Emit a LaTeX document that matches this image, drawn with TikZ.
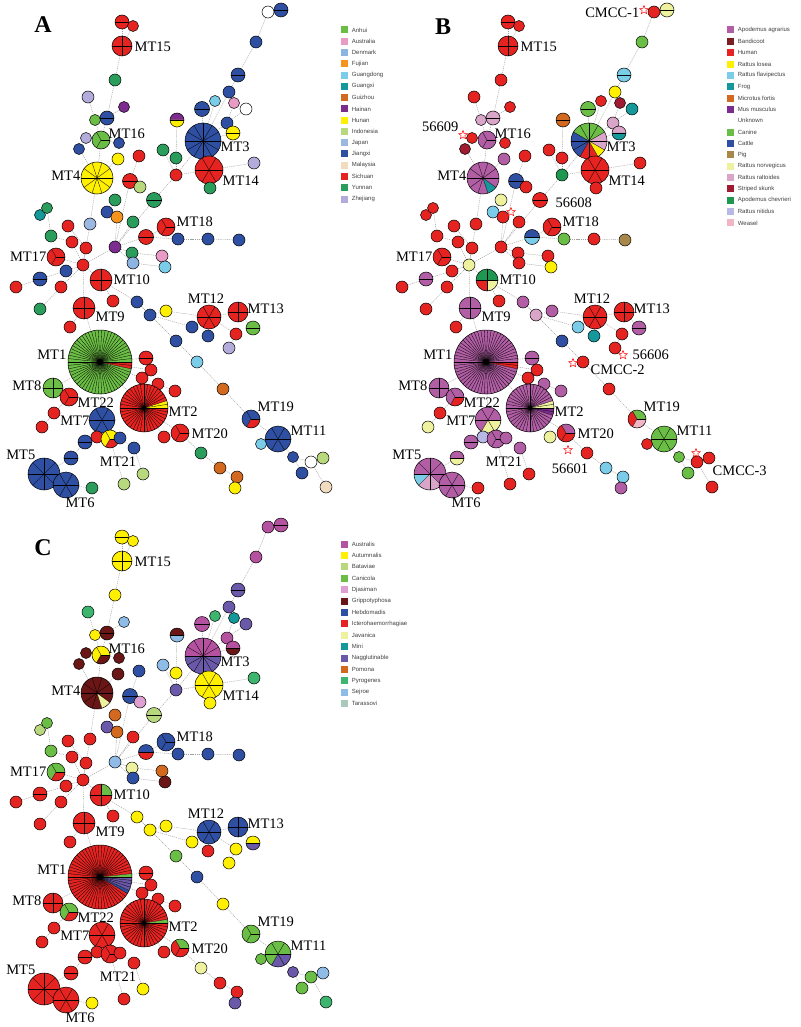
\documentclass[tikz,border=0pt]{standalone}
\usepackage{fontspec}
\setmainfont{Liberation Serif}
\newfontfamily\legfont{Liberation Sans}
\usetikzlibrary{positioning,shapes.geometric}

% colours of panel A (origin)
\definecolor{anh}{HTML}{6BBE45}\definecolor{aus}{HTML}{E89CC5}\definecolor{den}{HTML}{8DB3E2}
\definecolor{fuj}{HTML}{F7941D}\definecolor{gdo}{HTML}{7ACCE8}\definecolor{gxi}{HTML}{15989A}
\definecolor{gzh}{HTML}{D2691E}\definecolor{hai}{HTML}{7B2C8E}\definecolor{hun}{HTML}{FFEF00}
\definecolor{ind}{HTML}{B8D87E}\definecolor{jap}{HTML}{9BB8E0}\definecolor{jxi}{HTML}{2E4FA2}
\definecolor{mal}{HTML}{F2DCC0}\definecolor{sch}{HTML}{E52421}\definecolor{yun}{HTML}{2A9D5C}
\definecolor{zhe}{HTML}{B3ACDB}
% colours of panel B (host)
\definecolor{agr}{HTML}{B15EA5}\definecolor{ban}{HTML}{7A1E22}\definecolor{hum}{HTML}{E52421}
\definecolor{los}{HTML}{FFEF00}\definecolor{fla}{HTML}{7ACCE8}\definecolor{fro}{HTML}{15989A}
\definecolor{mic}{HTML}{D2691E}\definecolor{mus}{HTML}{7B2C8E}\definecolor{unk}{HTML}{FFFFFF}
\definecolor{can}{HTML}{6BBE45}\definecolor{cat}{HTML}{2E4FA2}\definecolor{pig}{HTML}{A8884A}
\definecolor{nor}{HTML}{EEF19E}\definecolor{ral}{HTML}{D9A5C9}\definecolor{ssk}{HTML}{9E1B32}
\definecolor{che}{HTML}{1E9850}\definecolor{nit}{HTML}{B8B8E6}\definecolor{wea}{HTML}{F2B5C4}
% colours of panel C (serogroup)
\definecolor{sau}{HTML}{B5529F}\definecolor{aut}{HTML}{FFEF00}\definecolor{bat}{HTML}{B8D87E}
\definecolor{cani}{HTML}{6BBE45}\definecolor{dja}{HTML}{DDA0D0}\definecolor{gri}{HTML}{6B1616}
\definecolor{heb}{HTML}{2E4FA2}\definecolor{ict}{HTML}{E52421}\definecolor{jav}{HTML}{EEF19E}
\definecolor{mini}{HTML}{15989A}\definecolor{nag}{HTML}{6A58A8}\definecolor{pom}{HTML}{D2691E}
\definecolor{pyr}{HTML}{3DB56E}\definecolor{sej}{HTML}{8EBCE6}\definecolor{tar}{HTML}{A9C9BA}

\tikzset{
  mstnode/.style={circle, inner sep=0pt, outer sep=0pt},
  mstedge/.style={draw=gray!75, line width=0.4pt, dash pattern=on 1.2pt off 0.9pt},
  pieline/.style={black, line width=0.3pt},
  pierim/.style={black, line width=0.5pt},
  mtlabel/.style={font=\fontsize{14.5}{15}\selectfont, inner sep=0.5pt},
  legbox/.style={minimum size=7pt, inner sep=0pt},
  legtext/.style={font=\legfont\fontsize{6}{7}\selectfont, text=black!75, inner sep=0pt},
  panel/.style={font=\bfseries\fontsize{24}{24}\selectfont, inner sep=0pt},
  refstar/.style={star, star points=5, star point ratio=2.3, draw=red, fill=white,
    line width=0.5pt, minimum size=9pt, inner sep=0pt},
}

% pie of one profile: panel, id, sectors, colour/count list
\newcommand{\mstpie}[4]{%
  \edef\pier{\csname mstr#2\endcsname}%
  \edef\pielist{#4}%
  \gdef\piestart{0}%
  \foreach \piecol/\piecnt in \pielist {%
    \pgfmathsetmacro\pieend{\piestart+\piecnt/#3*360}%
    \fill[fill=\piecol] (#1#2.center) -- ++(\piestart:\pier pt)
      arc[start angle=\piestart, end angle=\pieend, radius=\pier pt] -- cycle;
    \global\let\piestart\pieend
  }%
  \ifnum#3>1\relax
    \foreach \k in {1,...,#3} {\draw[pieline] (#1#2.center) -- ++({\k/#3*360}:\pier pt);}%
  \fi
  \draw[pierim] (#1#2.center) circle[radius=\pier pt];
}

\begin{document}
\begin{tikzpicture}[x=1pt, y=-1pt]
% canvas
\fill[white] (0,0) rectangle (800,1027);
\useasboundingbox (0,0) rectangle (800,1027);

% profiles, same layout in the three panels
\foreach \p/\dx/\dy in {a/0/0, b/386/0, c/0/515} {
  \foreach \id/\x/\y/\r in {t1/122/22/7, t2/133/26/5.5, MT15/122/46/10, t3/115/80/6,
      t4/88/97/6, t5/95/120/5.5, t6/107/118/7, t7/124/107/5.5, t8/86/138/5.5,
      MT16/101/140/9, t9/119/143/5.5, t10/79/149/5.5, t11/118/159/6, MT4/97/178/16,
      t12/139/156/6, t13/130/181/7.5, t14/140/187/6, t15/115/200/6, t16/107/212/6,
      t17/117/217/6, t18/133/222/6, t19/154/200/7.5, t20/90/224/6, t21/68/226/6,
      t22/51/236/6, t23/40/215/5.5, t24/47/208/5.5, MT18/166/227/9, t25/146/237/7.5,
      t26/178/239/6, t27/208/239/6, t28/239/240/6,
      u1/268/12/6, u2/281/10/7, u3/256/42/6, u4/238/75/7, u5/229/92/6, u6/215/101/5.5,
      u7/234/103/5.5, u8/246/109/6, u9/202/109/7.5, u10/227/123/6, u11/233/133/7,
      MT3/203/141/18, u12/177/120/7, u13/163/150/6, u14/176/158/6, u15/176/175/6,
      MT14/209/170/14, u16/210/188/6, u17/254/163/6,
      m1/72/242/6, m2/86/248/6, h1/115/247/6, m3/132/253/6, m4/162/256/6, m5/133/263/6,
      m6/165/267/6, MT17/56/257/9, m7/83/265/6, m8/66/271/6, m9/40/279/7, m10/16/287/6,
      m11/61/287/6, m12/40/309/6, MT10/101/280/11, m13/113/301/6, MT9/84/308/11,
      m14/70/327/6, m15/137/302/6, m16/150/315/6, m17/166/311/6, MT12/209/317/12,
      MT13/238/312/10, m18/253/328/7, m19/192/327/6, m20/208/336/6, m21/236/334/6,
      m22/229/348/6, m23/176/341/6, m24/197/362/6, m25/223/389/6, MT1/100/362/32,
      m26/146/358/7, m27/151/370/6, m28/142/378/6, m29/158/384/6, m30/175/391/6,
      MT8/53/388/10, MT22/69/397/9, MT2/144/408/24, m31/54/413/6, m32/42/427/6,
      MT7/102/420/13, MT20/180/433/9, m33/164/437/6, m34/85/442/7, m35/97/437/6,
      MT21/110/439/9, m36/120/438/6, m37/134/448/6, m38/201/453/6, m39/220/468/6,
      m40/237/477/6, m41/235/488/6, MT5/44/474/16, MT6/66/485/13, m42/71/458/7,
      m43/92/488/6, m44/124/484/6, m45/143/474/6,
      MT19/251/419/9, MT11/278/439/13, r1/261/444/5.5, r2/293/457/5.5, r3/311/462/6,
      r4/323/458/6, r5/302/473/6, r6/326/487/6} {
    \node[mstnode, minimum size={2*\r pt}] (\p\id) at (\x+\dx, \y+\dy) {};
    \expandafter\xdef\csname mstr\id\endcsname{\r}
  }
}

% links of the spanning tree
\foreach \p in {a,b,c}
  \foreach \u/\v in {t1/MT15, t2/MT15, MT15/t3, t3/t6, t4/t5, t5/MT16, t6/MT16, t7/t6,
      t8/MT16, t9/MT16, MT16/MT4, t10/MT4, t11/MT4, t12/t13, t13/t14, t13/h1, t15/t16,
      t16/t17, t17/h1, t18/h1, t19/h1, t19/u15, u15/u14, u13/u15, u12/u14, MT3/u15,
      u15/MT14, MT14/u16, MT14/u17, MT3/u9, MT3/u10, MT3/u11, MT3/u6, u10/u7, u10/u8,
      u5/MT3, u4/u5, u3/u4, u1/u3, u1/u2, MT4/t20, t20/m7, h1/m7, t25/h1, t25/MT18,
      t25/t26, t26/t27, t27/t28, h1/m3, m3/m4, h1/m5, m5/m6, t23/t24, t24/t22, t22/m1,
      m1/m7, t21/m2, m2/m7, MT17/m7, m8/m7, m9/m8, m10/m9, m11/m7, m12/m11, MT10/m7,
      MT9/m7, m13/MT10, MT10/m15, m15/m16, m16/m17, m17/MT12, m16/m19, m19/MT12,
      m20/MT12, m21/MT12, m22/m21, MT13/MT12, m18/MT13, m15/m23, m23/m24, m24/m25,
      m25/MT19, MT19/MT11, MT11/r1, MT11/r2, r2/r5, r2/r3, r3/r4, r3/r6, MT9/m14,
      MT9/MT1, MT1/m26, MT1/m27, MT1/m28, MT1/MT2, MT2/m29, m29/m30, MT1/MT8, MT8/MT22,
      MT22/m31, m31/m32, MT1/MT7, MT7/m34, MT7/m35, MT7/MT21, MT7/m36, m36/m37,
      m34/m42, m42/MT5, MT5/MT6, MT6/m43, MT21/m44, m37/m45, MT2/MT20, MT2/m33,
      MT20/m38, m38/m39, m39/m40, m40/m41}
    \draw[mstedge] (\p\u) -- (\p\v);

% A: geographic origin
\foreach \id/\n/\s in {t1/2/{sch/2}, t2/1/{sch/1}, MT15/4/{sch/4}, t3/1/{yun/1},
    t4/1/{zhe/1}, t5/1/{anh/1}, t6/2/{jxi/2}, t7/1/{hai/1}, t8/1/{zhe/1}, MT16/3/{anh/3},
    t9/1/{jxi/1}, t10/1/{jxi/1}, t11/1/{hun/1}, MT4/10/{hun/10}, t12/1/{sch/1},
    t13/2/{sch/2}, t14/1/{ind/1}, t15/1/{yun/1}, t16/1/{jxi/1}, t17/1/{fuj/1},
    t18/1/{yun/1}, t19/2/{yun/2}, t20/1/{jap/1}, t21/1/{sch/1}, t22/1/{yun/1},
    t23/1/{gxi/1}, t24/1/{yun/1}, MT18/3/{sch/3}, t25/2/{sch/2}, t26/1/{jxi/1},
    t27/1/{jxi/1}, t28/1/{jxi/1},
    u1/1/{white/1}, u2/2/{jxi/2}, u3/1/{jxi/1}, u4/2/{jxi/2}, u5/1/{jxi/1}, u6/1/{gdo/1},
    u7/1/{aus/1}, u8/1/{white/1}, u9/2/{jxi/2}, u10/1/{jxi/1}, u11/2/{hun/2},
    MT3/12/{jxi/12}, u12/2/{hai/1,hun/1}, u13/1/{yun/1}, u14/1/{yun/1}, u15/1/{sch/1},
    MT14/6/{sch/6}, u16/1/{yun/1}, u17/1/{zhe/1},
    m1/1/{sch/1}, m2/1/{sch/1}, h1/1/{hai/1}, m3/1/{yun/1}, m4/1/{aus/1}, m5/1/{den/1},
    m6/1/{gdo/1}, MT17/3/{sch/3}, m7/1/{sch/1}, m8/1/{jxi/1}, m9/2/{jxi/2},
    m10/1/{sch/1}, m11/1/{sch/1}, m12/1/{yun/1}, MT10/4/{sch/4}, m13/1/{sch/1},
    MT9/4/{sch/4}, m14/1/{sch/1}, m15/1/{jxi/1}, m16/1/{jxi/1}, m17/1/{hun/1},
    MT12/6/{sch/6}, MT13/4/{sch/4}, m18/2/{anh/2}, m19/1/{jxi/1}, m20/1/{jxi/1},
    m21/1/{sch/1}, m22/1/{zhe/1}, m23/1/{jxi/1}, m24/1/{gdo/1}, m25/1/{gzh/1},
    MT1/58/{anh/56,sch/2}, m26/2/{sch/2}, m27/1/{sch/1}, m28/1/{sch/1}, m29/1/{sch/1},
    m30/1/{sch/1}, MT8/4/{anh/4}, MT22/3/{sch/3}, MT2/40/{hun/2,sch/38}, m31/1/{sch/1},
    m32/1/{sch/1}, MT7/6/{jxi/6}, MT20/3/{sch/3}, m33/1/{sch/1}, m34/2/{jxi/2},
    m35/1/{sch/1}, MT21/3/{hun/2,sch/1}, m36/1/{jxi/1}, m37/1/{jxi/1}, m38/1/{yun/1},
    m39/1/{gzh/1}, m40/1/{gzh/1}, m41/1/{hun/1}, MT5/8/{jxi/8}, MT6/6/{jxi/6},
    m42/2/{jxi/2}, m43/1/{yun/1}, m44/1/{ind/1}, m45/1/{ind/1},
    MT19/3/{jxi/2,sch/1}, MT11/6/{jxi/6}, r1/1/{gdo/1}, r2/1/{jxi/1}, r3/1/{white/1},
    r4/1/{ind/1}, r5/1/{jxi/1}, r6/1/{mal/1}}
  {\mstpie{a}{\id}{\n}{\s}}

% B: host
\foreach \id/\n/\s in {t1/2/{hum/2}, t2/1/{hum/1}, MT15/4/{hum/4}, t3/1/{hum/1},
    t4/1/{hum/1}, t5/1/{ral/1}, t6/2/{ral/2}, t7/1/{hum/1}, t8/1/{hum/1}, MT16/3/{agr/3},
    t9/1/{hum/1}, t10/1/{ssk/1}, t11/1/{agr/1}, MT4/10/{agr/8,fro/1,agr/1},
    t12/1/{hum/1}, t13/2/{cat/2}, t14/1/{hum/1}, t15/1/{nor/1}, t16/1/{fla/1},
    t17/1/{hum/1}, t18/1/{hum/1}, t19/2/{hum/2}, t20/1/{hum/1}, t21/1/{hum/1},
    t22/1/{hum/1}, t23/1/{hum/1}, t24/1/{hum/1}, MT18/3/{hum/3}, t25/2/{cat/1,fla/1},
    t26/1/{can/1}, t27/1/{hum/1}, t28/1/{pig/1},
    u1/1/{hum/1}, u2/2/{nor/2}, u3/1/{can/1}, u4/2/{fla/2}, u5/1/{los/1}, u6/1/{hum/1},
    u7/1/{ssk/1}, u8/1/{fro/1}, u9/2/{can/2}, u10/1/{ral/1}, u11/2/{ral/1,fro/1},
    MT3/12/{ral/1,can/4,cat/3,hum/2,los/1,ral/1}, u12/2/{mic/2}, u13/1/{hum/1},
    u14/1/{hum/1}, u15/1/{che/1}, MT14/6/{hum/6}, u16/1/{hum/1}, u17/1/{hum/1},
    m1/1/{hum/1}, m2/1/{hum/1}, h1/1/{hum/1}, m3/1/{hum/1}, m4/1/{hum/1}, m5/1/{hum/1},
    m6/1/{los/1}, MT17/3/{hum/3}, m7/1/{nor/1}, m8/1/{hum/1}, m9/2/{agr/2},
    m10/1/{hum/1}, m11/1/{hum/1}, m12/1/{hum/1}, MT10/4/{che/2,hum/1,nor/1},
    m13/1/{hum/1}, MT9/4/{agr/4}, m14/1/{hum/1}, m15/1/{agr/1}, m16/1/{ral/1},
    m17/1/{agr/1}, MT12/6/{hum/6}, MT13/4/{hum/4}, m18/2/{agr/2}, m19/1/{fla/1},
    m20/1/{fro/1}, m21/1/{hum/1}, m22/1/{hum/1}, m23/1/{cat/1}, m24/1/{hum/1},
    m25/1/{hum/1}, MT1/58/{agr/56,hum/2}, m26/2/{agr/2}, m27/1/{hum/1}, m28/1/{hum/1},
    m29/1/{agr/1}, m30/1/{agr/1}, MT8/4/{agr/4}, MT22/3/{agr/2,hum/1},
    MT2/40/{nor/2,agr/36,mus/2}, m31/1/{hum/1}, m32/1/{nor/1}, MT7/6/{agr/4,nor/2},
    MT20/3/{agr/1,hum/2}, m33/1/{nor/1}, m34/2/{agr/2}, m35/1/{nit/1}, MT21/3/{agr/3},
    m36/1/{agr/1}, m37/1/{agr/1}, m38/1/{hum/1}, m39/1/{fla/1}, m40/1/{fla/1},
    m41/1/{agr/1}, MT5/8/{agr/4,fla/1,ral/2,agr/1}, MT6/6/{agr/6}, m42/2/{agr/1,nor/1},
    m43/1/{hum/1}, m44/1/{hum/1}, m45/1/{hum/1},
    MT19/3/{can/1,hum/1,wea/1}, MT11/6/{can/6}, r1/1/{hum/1}, r2/1/{can/1},
    r3/1/{hum/1}, r4/1/{hum/1}, r5/1/{can/1}, r6/1/{hum/1}}
  {\mstpie{b}{\id}{\n}{\s}}

% C: serogroup
\foreach \id/\n/\s in {t1/2/{aut/2}, t2/1/{aut/1}, MT15/4/{aut/4}, t3/1/{aut/1},
    t4/1/{pyr/1}, t5/1/{aut/1}, t6/2/{gri/2}, t7/1/{sej/1}, t8/1/{gri/1},
    MT16/3/{aut/2,gri/1}, t9/1/{gri/1}, t10/1/{gri/1}, t11/1/{gri/1},
    MT4/10/{gri/8,jav/1,gri/1}, t12/1/{heb/1}, t13/2/{heb/2}, t14/1/{dja/1},
    t15/1/{pom/1}, t16/1/{nag/1}, t17/1/{pom/1}, t18/1/{ict/1}, t19/2/{bat/2},
    t20/1/{ict/1}, t21/1/{ict/1}, t22/1/{cani/1}, t23/1/{bat/1}, t24/1/{cani/1},
    MT18/3/{heb/3}, t25/2/{heb/1,ict/1}, t26/1/{heb/1}, t27/1/{heb/1}, t28/1/{heb/1},
    u1/1/{sau/1}, u2/2/{sau/2}, u3/1/{sau/1}, u4/2/{nag/2}, u5/1/{nag/1}, u6/1/{pyr/1},
    u7/1/{mini/1}, u8/1/{nag/1}, u9/2/{sau/2}, u10/1/{sau/1}, u11/2/{sau/1,gri/1},
    MT3/12/{sau/6,nag/6}, u12/2/{gri/1,sej/1}, u13/1/{sej/1}, u14/1/{aut/1},
    u15/1/{nag/1}, MT14/6/{aut/6}, u16/1/{aut/1}, u17/1/{pyr/1},
    m1/1/{ict/1}, m2/1/{ict/1}, h1/1/{sej/1}, m3/1/{jav/1}, m4/1/{pom/1}, m5/1/{heb/1},
    m6/1/{gri/1}, MT17/3/{cani/2,ict/1}, m7/1/{ict/1}, m8/1/{ict/1}, m9/2/{ict/2},
    m10/1/{ict/1}, m11/1/{ict/1}, m12/1/{ict/1}, MT10/4/{cani/1,ict/3}, m13/1/{ict/1},
    MT9/4/{ict/4}, m14/1/{ict/1}, m15/1/{aut/1}, m16/1/{aut/1}, m17/1/{aut/1},
    MT12/6/{heb/6}, MT13/4/{heb/4}, m18/2/{aut/1,nag/1}, m19/1/{aut/1}, m20/1/{ict/1},
    m21/1/{aut/1}, m22/1/{aut/1}, m23/1/{cani/1}, m24/1/{heb/1}, m25/1/{aut/1},
    MT1/58/{cani/1,ict/52,heb/1,nag/4}, m26/2/{ict/2}, m27/1/{ict/1}, m28/1/{ict/1},
    m29/1/{ict/1}, m30/1/{ict/1}, MT8/4/{ict/4}, MT22/3/{cani/2,ict/1},
    MT2/40/{cani/1,ict/39}, m31/1/{ict/1}, m32/1/{ict/1}, MT7/6/{ict/6},
    MT20/3/{cani/1,ict/2}, m33/1/{ict/1}, m34/2/{ict/2}, m35/1/{ict/1}, MT21/3/{ict/3},
    m36/1/{ict/1}, m37/1/{ict/1}, m38/1/{jav/1}, m39/1/{ict/1}, m40/1/{ict/1},
    m41/1/{nag/1}, MT5/8/{ict/8}, MT6/6/{ict/6}, m42/2/{ict/2}, m43/1/{aut/1},
    m44/1/{ict/1}, m45/1/{aut/1},
    MT19/3/{cani/3}, MT11/6/{cani/4,nag/2}, r1/1/{cani/1}, r2/1/{nag/1}, r3/1/{cani/1},
    r4/1/{sej/1}, r5/1/{cani/1}, r6/1/{pyr/1}}
  {\mstpie{c}{\id}{\n}{\s}}

% hubs of the two largest profiles
\foreach \p in {a,b,c} {
  \fill (\p MT1) circle[radius=3pt];
  \fill (\p MT2) circle[radius=2.2pt];
}

% MT labels
\foreach \p/\dx/\dy in {a/0/0, b/386/0, c/0/515}
  \foreach \t/\x/\y/\a in {MT15/134/47/west, MT16/108/134/west, MT3/220/147/west,
      MT4/81/176/east, MT14/222/181/west, MT18/176/222/west, MT17/47/257/east,
      MT10/113/280/west, MT9/95/317/west, MT12/206/299/center, MT13/247/309/west,
      MT1/67/355/east, MT8/42/386/east, MT22/77/403/west, MT2/168/412/west,
      MT7/90/421/east, MT20/191/434/west, MT21/118/462/center, MT5/36/455/east,
      MT6/80/503/center, MT19/257/407/west, MT11/290/431/west}
    \node[mtlabel, anchor=\a] (\p l\t) at (\x+\dx, \y+\dy) {\t};

% reference strains in B
\node[refstar] (s1) at (644,10) {};
\node[mtlabel, anchor=east] (cmcc1) at (640,13) {CMCC-1};
\node[refstar] (s2) at (463,135) {};
\node[mtlabel, anchor=east] (l56609) at (459,127) {56609};
\node[refstar] (s3) at (511,212) {};
\node[mtlabel, anchor=west] (l56608) at (555,203) {56608};
\node[refstar] (s4) at (623,355) {};
\node[mtlabel, anchor=west] (l56606) at (632,355) {56606};
\node[refstar] (s5) at (573,363) {};
\node[mtlabel, anchor=west] (cmcc2) at (590,370) {CMCC-2};
\node[refstar] (s6) at (568,450) {};
\node[mtlabel] (l56601) at (570,469) {56601};
\node[refstar] (s7) at (696,453) {};
\node[mtlabel, anchor=west] (cmcc3) at (712,471) {CMCC-3};

% panel letters
\node[panel] (pa) at (43,25) {A};
\node[panel] (pb) at (443,27) {B};
\node[panel] (pc) at (43,548) {C};

% legends
\foreach \lab/\col [count=\i] in {Anhui/anh, Australia/aus, Denmark/den, Fujian/fuj,
    Guangdong/gdo, Guangxi/gxi, Guizhou/gzh, Hainan/hai, Hunan/hun, Indonesia/ind,
    Japan/jap, Jiangxi/jxi, Malaysia/mal, Sichuan/sch, Yunnan/yun, Zhejiang/zhe} {
  \node[legbox, fill=\col] (la\i) at (344, 30+11.27*\i-11.27) {};
  \node[legtext, right=4pt of la\i] (lta\i) {\lab};
}
\foreach \lab/\col [count=\i] in {Apodemus agrarius/agr, Bandicoot/ban, Human/hum,
    Rattus losea/los, Rattus flavipectus/fla, Frog/fro, Microtus fortis/mic,
    Mus musculus/mus, Unknown/unk, Canine/can, Cattle/cat, Pig/pig,
    Rattus norvegicus/nor, Rattus raltoides/ral, Striped skunk/ssk,
    Apodemus chevrieri/che, Rattus nitidus/nit, Weasel/wea} {
  \node[legbox, fill=\col] (lb\i) at (730, 30+11.35*\i-11.35) {};
  \node[legtext, right=4pt of lb\i] (ltb\i) {\lab};
}
\foreach \lab/\col [count=\i] in {Australis/sau, Autumnalis/aut, Bataviae/bat,
    Canicola/cani, Djasiman/dja, Grippotyphosa/gri, Hebdomadis/heb,
    Icterohaemorrhagiae/ict, Javanica/jav, Mini/mini, Nagglutinable/nag, Pomona/pom,
    Pyrogenes/pyr, Sejroe/sej, Tarassovi/tar} {
  \node[legbox, fill=\col] (lc\i) at (344, 544+11.4*\i-11.4) {};
  \node[legtext, right=4pt of lc\i] (ltc\i) {\lab};
}
\end{tikzpicture}
\end{document}
